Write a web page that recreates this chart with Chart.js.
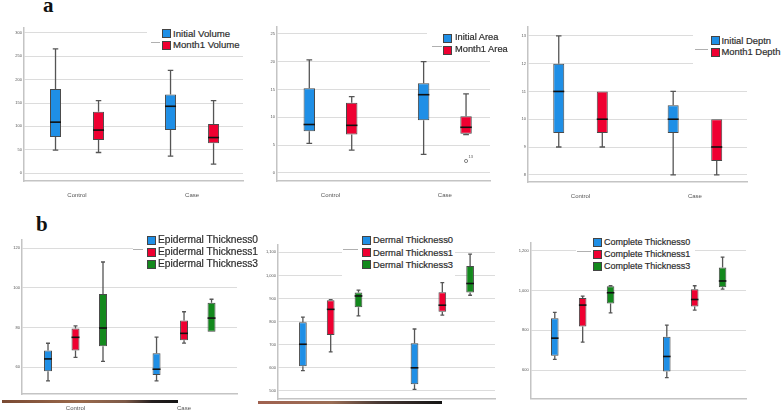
<!DOCTYPE html>
<html lang="en">
<head>
<meta charset="UTF-8">
<title>Box plots a / b</title>
<script src="https://cdn.jsdelivr.net/npm/chart.js"></script>
<style>
  body { margin: 0; background: #fff; width: 784px; height: 410px; overflow: hidden; position: relative; font-family: 'Liberation Sans', Arial, sans-serif; }
  canvas, .legend, .tag, .smear { position: absolute; }
  .tag { font-family: 'Liberation Serif', 'Times New Roman', serif; font-weight: bold; font-size: 21px; line-height: 21px; color: #111; }
  .legend { background: #fff; }
  .legend .row { position: absolute; white-space: nowrap; color: #2e2e2e; -webkit-text-stroke: 0.2px #2e2e2e; }
  .legend .sw { position: absolute; width: 7px; height: 7px; border: 1px solid #444; }
  .legend .ln { position: absolute; height: 1px; background: #b0b0b0; }
</style>
</head>
<body>
<div class="tag" style="left:43px; top:-5px;">a</div>
<div class="tag" style="left:36px; top:214px;">b</div>

<script>
// each box: [min, q1, median, q3, max], one entry per category
const categories = ['Control', 'Case'];

const volInitial = [[49, 77, 109, 180, 266], [36, 92, 143, 168, 220]];
const volMonth1 = [[44, 71, 92, 131, 155], [19, 64, 76, 105, 155]];
const volTicks = [0, 50, 100, 150, 200, 250, 300];
const volLegend = ['Initial Volume', 'Month1 Volume'];

const areaInitial = [[5.3, 7.5, 8.7, 15.2, 20.3], [3.35, 9.45, 14.05, 16.1, 20.0]];
const areaMonth1 = [[4.1, 6.9, 8.55, 12.6, 13.7], [6.9, 7.05, 8.2, 10.2, 14.2]];
const areaMonth1Outliers = [[], [2.15]];
const areaOutlierLabels = [[], ['13']];
const areaTicks = [0, 5, 10, 15, 20, 25];
const areaLegend = ['Initial Area', 'Month1 Area'];

const depthInitial = [[9, 9.5, 11, 12, 13], [8, 9.5, 10, 10.5, 11]];
const depthMonth1 = [[9, 9.5, 10, 11, 11], [8, 8.5, 9, 10, 10]];
const depthTicks = [8, 9, 10, 11, 12, 13];
const depthLegend = ['Initial Deptn', 'Month1 Depth'];

const epi0 = [[53.1, 58.0, 64.2, 68.4, 72.1], [53.1, 56.1, 59.0, 67.0, 75.2]];
const epi1 = [[65.0, 68.5, 75.1, 79.6, 80.9], [72.2, 73.6, 77.1, 83.6, 88.0]];
const epi3 = [[63.0, 70.6, 79.8, 96.9, 113.1], [77.9, 77.9, 84.8, 92.5, 94.3]];
const epiTicks = [60, 80, 100, 120];
const epiLegend = ['Epidermal Thickness0', 'Epidermal Thickness1', 'Epidermal Thickness3'];

const derm0 = [[588, 607, 702, 797, 819], [507, 529, 600, 706, 768]];
const derm1 = [[669, 742, 853, 892, 895], [828, 843, 871, 927, 969]];
const derm3 = [[825, 862, 911, 926, 936], [914, 926, 965, 1041, 1092]];
const dermTicks = [500, 600, 700, 800, 900, 1000, 1100];
const dermLegend = ['Dermal Thickness0', 'Dermal Thickness1', 'Dermal Thickness3'];

const comp0 = [[654, 672, 761, 861, 890], [563, 593, 669, 768, 826]];
const comp1 = [[741, 820, 927, 962, 972], [902, 920, 955, 1007, 1024]];
const comp3 = [[888, 935, 989, 1021, 1024], [1007, 1016, 1048, 1116, 1168]];
const compTicks = [600, 800, 1000, 1200];
const compLegend = ['Complete Thickness0', 'Complete Thickness1', 'Complete Thickness3'];

const seriesColors = ['#1f8fe6', '#ef0031', '#13891d'];

Chart.defaults.font.family = "'Liberation Sans', Arial, sans-serif";

// draws whiskers, caps, medians and outliers on top of the floating bars
const boxWhiskers = {
    id: 'boxWhiskers',
    afterDatasetsDraw(chart) {
        const ctx = chart.ctx;
        const y = chart.scales.y;
        chart.data.datasets.forEach((ds, di) => {
            const meta = chart.getDatasetMeta(di);
            meta.data.forEach((bar, i) => {
                const s = ds.stats[i];
                const half = bar.width / 2;
                const cap = bar.width / 4;
                const pMin = y.getPixelForValue(s[0]);
                const pQ1 = y.getPixelForValue(s[1]);
                const pMed = y.getPixelForValue(s[2]);
                const pQ3 = y.getPixelForValue(s[3]);
                const pMax = y.getPixelForValue(s[4]);
                ctx.save();
                ctx.strokeStyle = '#555';
                ctx.lineWidth = 1.3;
                ctx.beginPath();
                if (s[4] > s[3]) {
                    ctx.moveTo(bar.x, pQ3);
                    ctx.lineTo(bar.x, pMax);
                    ctx.moveTo(bar.x - cap, pMax);
                    ctx.lineTo(bar.x + cap, pMax);
                }
                if (s[0] < s[1]) {
                    ctx.moveTo(bar.x, pQ1);
                    ctx.lineTo(bar.x, pMin);
                    ctx.moveTo(bar.x - cap, pMin);
                    ctx.lineTo(bar.x + cap, pMin);
                }
                ctx.stroke();
                ctx.strokeStyle = '#111';
                ctx.lineWidth = 1.6;
                ctx.beginPath();
                ctx.moveTo(bar.x - half, pMed);
                ctx.lineTo(bar.x + half, pMed);
                ctx.stroke();
                if (ds.outliers && ds.outliers[i]) {
                    ds.outliers[i].forEach((v, k) => {
                        const py = y.getPixelForValue(v);
                        ctx.strokeStyle = '#666';
                        ctx.lineWidth = 0.8;
                        ctx.beginPath();
                        ctx.arc(bar.x, py, 1.6, 0, Math.PI * 2);
                        ctx.stroke();
                        ctx.fillStyle = '#555';
                        ctx.font = "4px 'Liberation Sans'";
                        ctx.fillText(ds.outlierLabels[i][k], bar.x + 2.5, py - 2.5);
                    });
                }
                ctx.restore();
            });
        });
    }
};

function makePanel(p) {
    const canvas = document.createElement('canvas');
    canvas.width = p.w;
    canvas.height = p.h;
    canvas.style.left = p.left + 'px';
    canvas.style.top = p.top + 'px';
    document.body.appendChild(canvas);

    new Chart(canvas.getContext('2d'), {
        type: 'bar',
        data: {
            datasets: p.series.map((s, k) => ({
                label: p.legend[k],
                data: s.map((st, i) => ({ x: i + 1, y: [st[1], st[3]] })),
                stats: s,
                outliers: p.outliers ? p.outliers[k] : null,
                outlierLabels: p.outlierLabels ? p.outlierLabels[k] : null,
                backgroundColor: seriesColors[k],
                borderColor: '#4a4a4a',
                borderWidth: 1,
                borderSkipped: false,
                categoryPercentage: p.catPct,
                barPercentage: p.barPct
            }))
        },
        options: {
            responsive: false,
            animation: false,
            layout: { padding: { left: 0, top: p.T, right: p.w - p.R, bottom: 0 } },
            plugins: { legend: { display: false }, tooltip: { enabled: false } },
            scales: {
                x: {
                    type: 'linear',
                    offset: false,
                    min: p.xMin,
                    max: p.xMax,
                    afterBuildTicks: s => { s.ticks = categories.map((c, i) => ({ value: i + 1 })); },
                    afterFit: s => { s.height = p.h - p.B; },
                    grid: { display: false },
                    border: { display: true, color: '#c4c4c4', width: 1.5 },
                    ticks: {
                        display: p.xLabels !== false,
                        autoSkip: false,
                        maxRotation: 0,
                        padding: 3,
                        font: { size: 6 },
                        color: p.xColor || '#555',
                        callback: v => categories[v - 1]
                    }
                },
                y: {
                    min: p.yMin,
                    max: p.yMax,
                    afterBuildTicks: s => { s.ticks = p.ticks.map(v => ({ value: v })); },
                    afterFit: s => { s.width = p.L; },
                    grid: { color: '#dcdcdc', lineWidth: 1, drawTicks: false },
                    border: { display: true, color: '#c4c4c4', width: 1.5 },
                    ticks: { padding: 2, font: { size: 4 }, color: '#555', callback: v => v.toLocaleString('en-US') }
                }
            }
        },
        plugins: [boxWhiskers]
    });

    // SPSS style legend box sitting over the plot
    const lg = p.lg;
    const box = document.createElement('div');
    box.className = 'legend';
    box.style.left = lg.x + 'px';
    box.style.top = lg.y + 'px';
    box.style.width = lg.w + 'px';
    box.style.height = lg.h + 'px';
    document.body.appendChild(box);
    const ln = document.createElement('div');
    ln.className = 'ln';
    ln.style.left = (lg.lineX1 - lg.x) + 'px';
    ln.style.width = (lg.lineX2 - lg.lineX1) + 'px';
    ln.style.top = (lg.lineY - lg.y) + 'px';
    box.appendChild(ln);
    p.legend.forEach((name, k) => {
        const cy = lg.rows[k] - lg.y;
        const sw = document.createElement('div');
        sw.className = 'sw';
        sw.style.left = (lg.swX - lg.x) + 'px';
        sw.style.top = (cy - 4.5) + 'px';
        sw.style.background = seriesColors[k];
        box.appendChild(sw);
        const row = document.createElement('div');
        row.className = 'row';
        row.textContent = name;
        row.style.fontSize = lg.font + 'px';
        row.style.lineHeight = (lg.font * 1.2) + 'px';
        row.style.left = (lg.textX - lg.x) + 'px';
        row.style.top = (cy - lg.font * 0.6) + 'px';
        box.appendChild(row);
    });
}

const panels = [
    { left: 0, top: 0, w: 260, h: 200, L: 24, T: 28, R: 243, B: 181,
      yMin: -17.1, yMax: 310.7, xMin: 0.539, xMax: 2.443, catPct: 0.748, barPct: 0.256,
      series: [volInitial, volMonth1], ticks: volTicks, legend: volLegend,
      lg: { x: 147, y: 26, w: 98, h: 28, rows: [33.5, 45], swX: 162, textX: 173, lineX1: 151, lineX2: 160, lineY: 42, font: 9.6 } },
    { left: 260, top: 0, w: 260, h: 200, L: 17, T: 27, R: 230, B: 181,
      yMin: -1.44, yMax: 26.2, xMin: 0.532, xMax: 2.395, catPct: 0.742, barPct: 0.27,
      series: [areaInitial, areaMonth1], ticks: areaTicks, legend: areaLegend,
      outliers: [null, areaMonth1Outliers], outlierLabels: [null, areaOutlierLabels],
      lg: { x: 427, y: 28, w: 80, h: 30, rows: [38, 50], swX: 443, textX: 455, lineX1: 432, lineX2: 442, lineY: 46, font: 9.3 } },
    { left: 520, top: 0, w: 264, h: 200, L: 8, T: 27, R: 227, B: 182,
      yMin: 7.74, yMax: 13.32, xMin: 0.541, xMax: 2.455, catPct: 0.761, barPct: 0.253,
      series: [depthInitial, depthMonth1], ticks: depthTicks, legend: depthLegend,
      lg: { x: 693, y: 28, w: 91, h: 38, rows: [40.5, 52], swX: 710.5, textX: 721.5, lineX1: 695, lineX2: 708, lineY: 49, font: 9.4 } },
    { left: 0, top: 200, w: 260, h: 210, L: 22, T: 40, R: 237, B: 194,
      yMin: 46.5, yMax: 124.2, xMin: 0.507, xMax: 2.488, catPct: 0.76, barPct: 0.29,
      series: [epi0, epi1, epi3], ticks: epiTicks, legend: epiLegend,
      lg: { x: 133, y: 232, w: 125, h: 40, rows: [240.5, 252.5, 264], swX: 147, textX: 158, lineX1: 133, lineX2: 143, lineY: 249, font: 10.2 } },
    { left: 250, top: 200, w: 270, h: 210, L: 28, T: 45, R: 245, B: 199,
      yMin: 465, yMax: 1131.6, xMin: 0.528, xMax: 2.472, catPct: 0.747, barPct: 0.277, xLabels: false,
      series: [derm0, derm1, derm3], ticks: dermTicks, legend: dermLegend,
      lg: { x: 342, y: 232, w: 113, h: 45, rows: [240, 252.5, 264.5], swX: 361.7, textX: 373, lineX1: 343, lineX2: 358, lineY: 249, font: 9.4 } },
    { left: 510, top: 200, w: 274, h: 210, L: 20.7, T: 43, R: 236, B: 198.3,
      yMin: 459, yMax: 1238.7, xMin: 0.536, xMax: 2.458, catPct: 0.747, barPct: 0.27, xColor: '#aaa',
      series: [comp0, comp1, comp3], ticks: compTicks, legend: compLegend,
      lg: { x: 576, y: 232, w: 119, h: 40, rows: [242.5, 254, 266.5], swX: 592.7, textX: 604, lineX1: 577, lineX2: 591, lineY: 251, font: 9 } }
];

panels.forEach(makePanel);
</script>

<div class="smear" style="left:2px; top:400px; width:176px; height:3px; background:linear-gradient(to right, #7a4a33 0%, #9a6a4c 45%, #7d5a48 70%, #262020 85%, #151515 100%);"></div>
<div class="smear" style="left:258px; top:401px; width:184px; height:3px; background:linear-gradient(to right, #a0614f 0%, #9a6d55 40%, #4a3a35 65%, #141414 100%);"></div>
</body>
</html>
